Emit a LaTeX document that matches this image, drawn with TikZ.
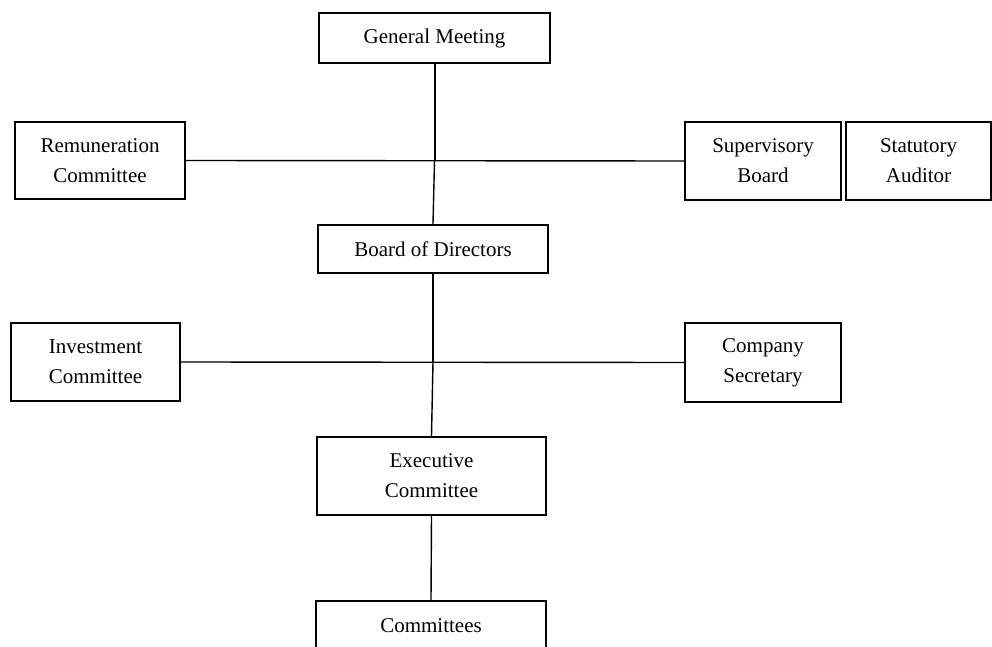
\documentclass[tikz,border=0pt]{standalone}
\usepackage{fontspec}
\setmainfont{Liberation Serif}
\begin{document}
\begin{tikzpicture}[x=0.5pt,y=-0.5pt,line join=miter,
  font=\fontsize{10.5}{15}\selectfont,
  orgbox/.style={draw,line width=1pt,fill=white,align=center,inner sep=0pt,anchor=north west},
  thickline/.style={line width=1pt},
  thinline/.style={line width=0.7pt}]
\clip (0,0) rectangle (992,647);
% top level
\node[orgbox,minimum width=115.5pt,minimum height=25pt] (gm) at (318,12) {General Meeting};
\node[orgbox,minimum width=85pt,minimum height=38.5pt] (remun) at (14,121) {Remuneration\\Committee};
\node[orgbox,minimum width=78pt,minimum height=39pt] (superv) at (684,121) {Supervisory\\Board};
\node[orgbox,minimum width=72.5pt,minimum height=39pt] (auditor) at (845,121) {Statutory\\Auditor};
% board level
\node[orgbox,minimum width=115pt,minimum height=24pt] (board) at (317,224) {Board of Directors};
\node[orgbox,minimum width=84.5pt,minimum height=39pt] (invest) at (10,322) {Investment\\Committee};
\node[orgbox,minimum width=78pt,minimum height=39.5pt] (secr) at (684,322) {Company\\Secretary};
% executive level
\node[orgbox,minimum width=114.5pt,minimum height=39pt] (exec) at (316,436) {Executive\\Committee};
\node[orgbox,minimum width=115pt,minimum height=25pt] (comm) at (315,600) {Committees};
% connectors
\coordinate (j1) at (gm.south |- remun.east);
\coordinate (j2) at (board.south |- invest.east);
\draw[thinline] (remun.east) -- (superv.west);
\draw[thinline] (invest.east) -- (secr.west);
\draw[thickline] (gm.south) -- (j1);
\draw[thinline] (j1) -- (board.north);
\draw[thickline] (board.south) -- (j2);
\draw[thinline] (j2) -- (exec.north);
\draw[thinline] (exec.south) -- (comm.north);
\end{tikzpicture}
\end{document}
